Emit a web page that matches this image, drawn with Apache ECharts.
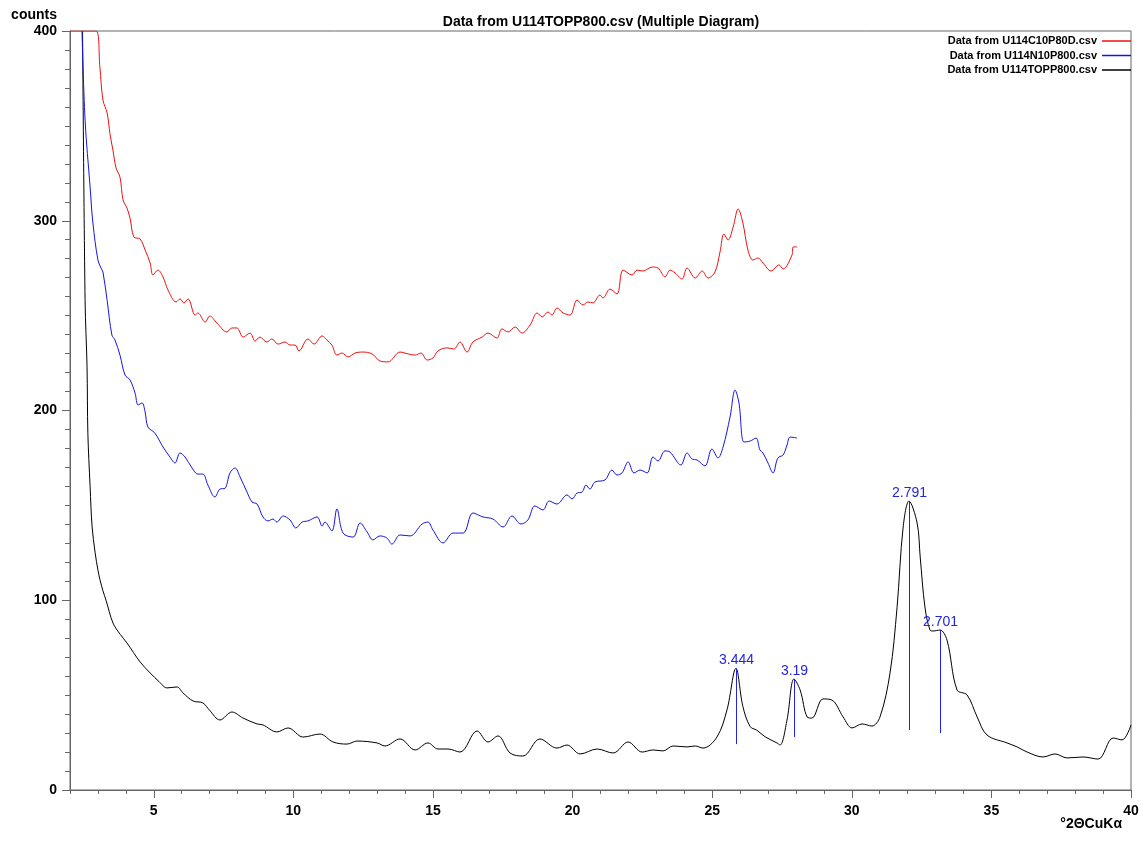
<!DOCTYPE html>
<html>
<head>
<meta charset="utf-8">
<script src="https://cdn.jsdelivr.net/npm/echarts@6/dist/echarts.min.js"></script>
<style>html,body{margin:0;padding:0;background:#fff;}#c{width:1143px;height:843px;}</style>
</head>
<body>
<div id="c"></div>
<script>
// ---- data ----
var seriesNames = ['Data from U114C10P80D.csv', 'Data from U114N10P800.csv', 'Data from U114TOPP800.csv'];

var redX = [2.0,2.93,3.07,3.18,3.33,3.43,3.54,3.65,3.79,3.90,4.04,4.15,4.29,4.51,4.69,4.87,4.97,5.15,5.33,5.51,5.80,5.94,6.08,6.23,6.48,6.58,6.84,7.01,7.26,7.62,7.80,7.98,8.20,8.45,8.63,8.80,9.05,9.23,9.45,9.70,9.88,10.06,10.20,10.52,10.74,11.03,11.20,11.38,11.56,11.74,11.96,12.21,12.49,12.82,13.10,13.39,13.82,14.11,14.36,14.57,14.79,15.00,15.18,15.50,15.75,15.97,16.22,16.43,16.76,16.97,17.29,17.47,17.69,17.94,18.19,18.48,18.73,18.91,19.12,19.26,19.44,19.66,19.91,20.16,20.37,20.55,20.73,20.98,21.09,21.34,21.59,21.81,22.13,22.31,22.52,22.85,23.06,23.31,23.49,23.67,23.92,24.10,24.39,24.64,24.85,25.10,25.28,25.42,25.57,25.75,25.93,26.10,26.28,26.46,26.64,26.82,27.11,27.39,27.54,27.86,27.90,28.04];
var redY = [400,400,381,363.6,356.8,346,337,327.8,323,311,306.7,301.4,291.4,290.4,284.6,277.7,271.4,274,270.4,263.5,257.2,258.8,256.7,258.8,250.3,251.4,246.6,249.8,246.1,241.4,243.5,243.5,238.7,240.8,236.6,238.7,236.1,237.7,235,236.1,234.5,234.5,231.4,237.7,235,239.3,237.2,234.5,229.2,230.3,228.2,230.3,230.8,229.8,226.1,225.6,230.8,229.8,229.2,230.3,226.6,227.7,231.4,233.0,232.4,236.1,230.8,236.1,238.7,240.8,238.2,243.0,241.4,244.0,240.8,245.1,251.4,249.3,251.9,250.3,254.0,251.4,250.3,258.2,255.6,257.2,256.7,260.9,259.3,264.0,261.4,274.0,271.4,274.0,273.5,275.6,275.1,270.4,274.0,272.5,269.3,275.1,269.8,273.5,269.8,273.0,283.5,293.0,289.9,296.7,306.2,298.8,284.6,279.3,280.4,277.7,273.5,276.7,274.6,282.0,286.2,286.2];

var blueX = [2.43,2.54,2.72,2.82,3.00,3.11,3.18,3.33,3.50,3.61,3.79,3.97,4.15,4.33,4.44,4.58,4.69,4.79,5.04,5.33,5.58,5.76,5.94,6.12,6.37,6.58,6.76,6.94,7.19,7.37,7.55,7.73,7.91,8.09,8.34,8.52,8.70,8.91,9.09,9.27,9.41,9.63,9.88,10.09,10.31,10.52,10.85,11.03,11.13,11.38,11.56,11.78,12.14,12.39,12.64,12.85,13.10,13.35,13.53,13.82,14.18,14.61,14.82,15.00,15.36,15.72,16.08,16.43,16.79,17.15,17.51,17.83,18.15,18.40,18.65,18.94,19.16,19.44,19.80,19.98,20.16,20.34,20.48,20.62,20.80,21.16,21.41,21.59,21.77,21.99,22.20,22.42,22.67,22.88,23.06,23.31,23.49,23.88,24.10,24.28,24.46,24.74,24.99,25.21,25.39,25.64,25.82,25.96,26.14,26.36,26.57,26.71,26.82,27.00,27.18,27.32,27.39,27.54,27.68,27.79,28.04];
var blueY = [400,353,317.8,298.8,279.3,275.1,273,258,239.8,237.2,229.2,218.7,216.1,209.2,202.9,204.0,199.2,191.3,188.1,180.8,175.5,172.3,177.6,175.5,169.7,166.5,166.5,160.7,154.4,158.6,159,167.1,169.7,165.0,157.0,151.8,150.7,143.9,141.8,142.8,141.2,144.4,142.3,138.1,141.2,141.8,143.9,139.1,141.2,136.5,148.1,135.4,133.3,140.7,136.0,131.8,133.9,132.8,129.6,134.4,133.9,140.2,141.2,137.0,130.2,135.4,135.4,146.0,143.9,142.8,138.6,144.4,140.2,142.3,149.7,147.6,152.3,150.7,155.5,153.4,156.5,157.0,160.7,158.6,162.3,163.4,168.6,166.0,167.1,172.9,167.1,168.6,167.1,175.5,173.4,178.7,178.1,171.3,177.6,174.4,173.9,170.8,179.7,175.0,180.8,196.6,210.8,203.9,183.4,183.9,185.5,179.2,177.6,172.3,167.1,173.9,175.5,176.5,181.8,186.0,185.5];

var blackX = [2.45,2.54,2.61,2.64,2.72,2.79,2.90,3.0,3.07,3.18,3.29,3.54,3.8,4.04,4.51,4.87,5.2,5.47,5.83,6.05,6.41,6.76,7.0,7.37,7.80,8.20,8.70,8.91,9.41,9.81,10.35,10.95,11.42,11.92,12.28,13.0,13.28,13.82,14.36,14.82,15.18,15.54,15.97,16.58,16.97,17.33,17.76,18.22,18.83,19.44,19.80,20.27,20.88,21.45,21.99,22.49,22.88,23.24,23.60,24.10,24.39,24.67,25.17,25.53,25.85,26.1,26.36,26.6,26.9,27.32,27.43,27.68,27.93,28.15,28.40,28.57,28.97,29.29,29.69,30.01,30.37,30.72,31.01,31.37,31.62,31.84,32.05,32.34,32.45,32.62,32.80,32.91,33.16,33.41,33.77,34.13,34.49,34.84,35.56,35.92,36.28,36.85,37.28,37.71,38.28,38.82,39.36,39.68,40.0];
var blackY = [400,258,223,188,160,139,125,116,111,105,100,88,82,77.5,67.5,61.7,57,53.8,54.3,51.1,46.9,45.9,42,36.9,41.1,37.9,34.8,34.3,30.6,32.7,27.9,29.5,25.3,24.2,25.8,24.8,23.2,26.9,21.1,24.8,21.6,21.6,20.0,31.1,25.3,28.5,19.5,17.9,26.9,22.1,23.7,19.0,21.6,19.5,25.3,20.0,21.1,20.6,23.2,22.7,23.2,22.1,27.9,42.2,64.1,44,33.4,31.5,28,24.8,23.7,36.9,58.5,52.7,38.5,37.9,48.0,47.4,38.5,32.7,34.8,33.7,38.5,61.7,96,138.6,152.3,140.7,122.8,96.4,84.3,83.8,84.3,79.0,52.7,50.1,38.5,29,24.8,22.7,20.0,17.4,19.0,16.9,17.4,16.3,27.4,26.4,34.3];

var peakLabels = ['3.444', '3.19', '2.791', '2.701'];
var peakPos = [25.85, 27.93, 32.05, 33.16];
var peakTop = [64.1, 58.5, 152.3, 84.3];
var peakBase = [24.2, 27.9, 31.6, 30.0];

var xMajorTicks = [5, 10, 15, 20, 25, 30, 35, 40];
var xMinorTicks = [2,3,4,6,7,8,9,11,12,13,14,16,17,18,19,21,22,23,24,26,27,28,29,31,32,33,34,36,37,38,39];

// ---- build ----
function zip(xs, ys) { var o = []; for (var i = 0; i < xs.length; i++) o.push([xs[i], ys[i]]); return o; }
var peakData = [];
for (var i = 0; i < peakPos.length; i++) peakData.push([peakPos[i], peakTop[i], peakBase[i], peakLabels[i]]);

var FONT = 'Liberation Sans, Arial, sans-serif';
var AX = '#666';
var PEAKC = '#2323e6';

var chart = echarts.init(document.getElementById('c'), null, {renderer: 'canvas'});
var lineCommon = {type: 'line', showSymbol: false, symbol: 'none', smooth: 0.35, clip: true, animation: false};

chart.setOption({
  animation: false,
  backgroundColor: '#fff',
  grid: {left: 70, right: 12, top: 31, bottom: 53, show: true, borderColor: AX, borderWidth: 1, backgroundColor: 'transparent'},
  legend: {
    data: seriesNames, orient: 'vertical', right: 12, top: 35, align: 'right', padding: 0,
    icon: 'rect', itemWidth: 29, itemHeight: 1.5, itemGap: 2.5,
    textStyle: {fontFamily: FONT, fontWeight: 'bold', fontSize: 11, color: '#000', lineHeight: 12},
    selectedMode: false
  },
  xAxis: [
    {type: 'value', min: 2, max: 40, position: 'bottom',
     axisLine: {show: true, onZero: false, lineStyle: {color: AX, width: 1}},
     axisTick: {show: true, customValues: xMajorTicks, length: 8, lineStyle: {color: AX}},
     axisLabel: {show: true, customValues: xMajorTicks, margin: 14, fontFamily: FONT, fontWeight: 'bold', fontSize: 14, color: '#000'},
     splitLine: {show: false}},
    {type: 'value', min: 2, max: 40, position: 'bottom',
     axisLine: {show: false, onZero: false},
     axisTick: {show: true, customValues: xMinorTicks, length: 4, lineStyle: {color: AX}},
     axisLabel: {show: false},
     splitLine: {show: false}}
  ],
  yAxis: {type: 'value', min: 0, max: 400, interval: 100,
    axisLine: {show: true, lineStyle: {color: AX, width: 1}},
    axisTick: {show: true, length: 8, lineStyle: {color: AX}},
    minorTick: {show: true, splitNumber: 10, length: 5, lineStyle: {color: AX}},
    axisLabel: {margin: 13, fontFamily: FONT, fontWeight: 'bold', fontSize: 14, color: '#000'},
    splitLine: {show: false}},
  graphic: [
    {type: 'text', x: 601, y: 22, style: {text: 'Data from U114TOPP800.csv (Multiple Diagram)', font: 'bold 14px ' + FONT, fill: '#000', align: 'center', verticalAlign: 'middle'}},
    {type: 'text', x: 57, y: 15, style: {text: 'counts', font: 'bold 14px ' + FONT, fill: '#000', align: 'right', verticalAlign: 'middle'}},
    {type: 'text', x: 1122, y: 824, style: {text: '°2ΘCuKα', font: 'bold 14px ' + FONT, fill: '#000', align: 'right', verticalAlign: 'middle'}}
  ],
  series: [
    Object.assign({}, lineCommon, {name: seriesNames[2], data: zip(blackX, blackY), lineStyle: {color: '#000', width: 1}, itemStyle: {color: '#000'}, z: 2}),
    Object.assign({}, lineCommon, {name: seriesNames[1], data: zip(blueX, blueY), lineStyle: {color: '#1414e0', width: 1}, itemStyle: {color: '#1414e0'}, z: 3}),
    Object.assign({}, lineCommon, {name: seriesNames[0], data: zip(redX, redY), lineStyle: {color: '#ee1111', width: 1}, itemStyle: {color: '#ee1111'}, z: 4}),
    {type: 'custom', name: 'peaks', z: 5, data: peakData, animation: false,
     renderItem: function (params, api) {
       var top = api.coord([api.value(0), api.value(1)]);
       var base = api.coord([api.value(0), api.value(2)]);
       var x = Math.round(top[0]) + 0.5;
       return {type: 'group', children: [
         {type: 'line', shape: {x1: x, y1: top[1], x2: x, y2: base[1]}, style: {stroke: PEAKC, lineWidth: 1}},
         {type: 'text', x: x, y: top[1] - 1, style: {text: peakLabels[params.dataIndex], font: '14px ' + FONT, fill: PEAKC, align: 'center', verticalAlign: 'bottom'}}
       ]};
     }}
  ]
});
</script>
</body>
</html>
